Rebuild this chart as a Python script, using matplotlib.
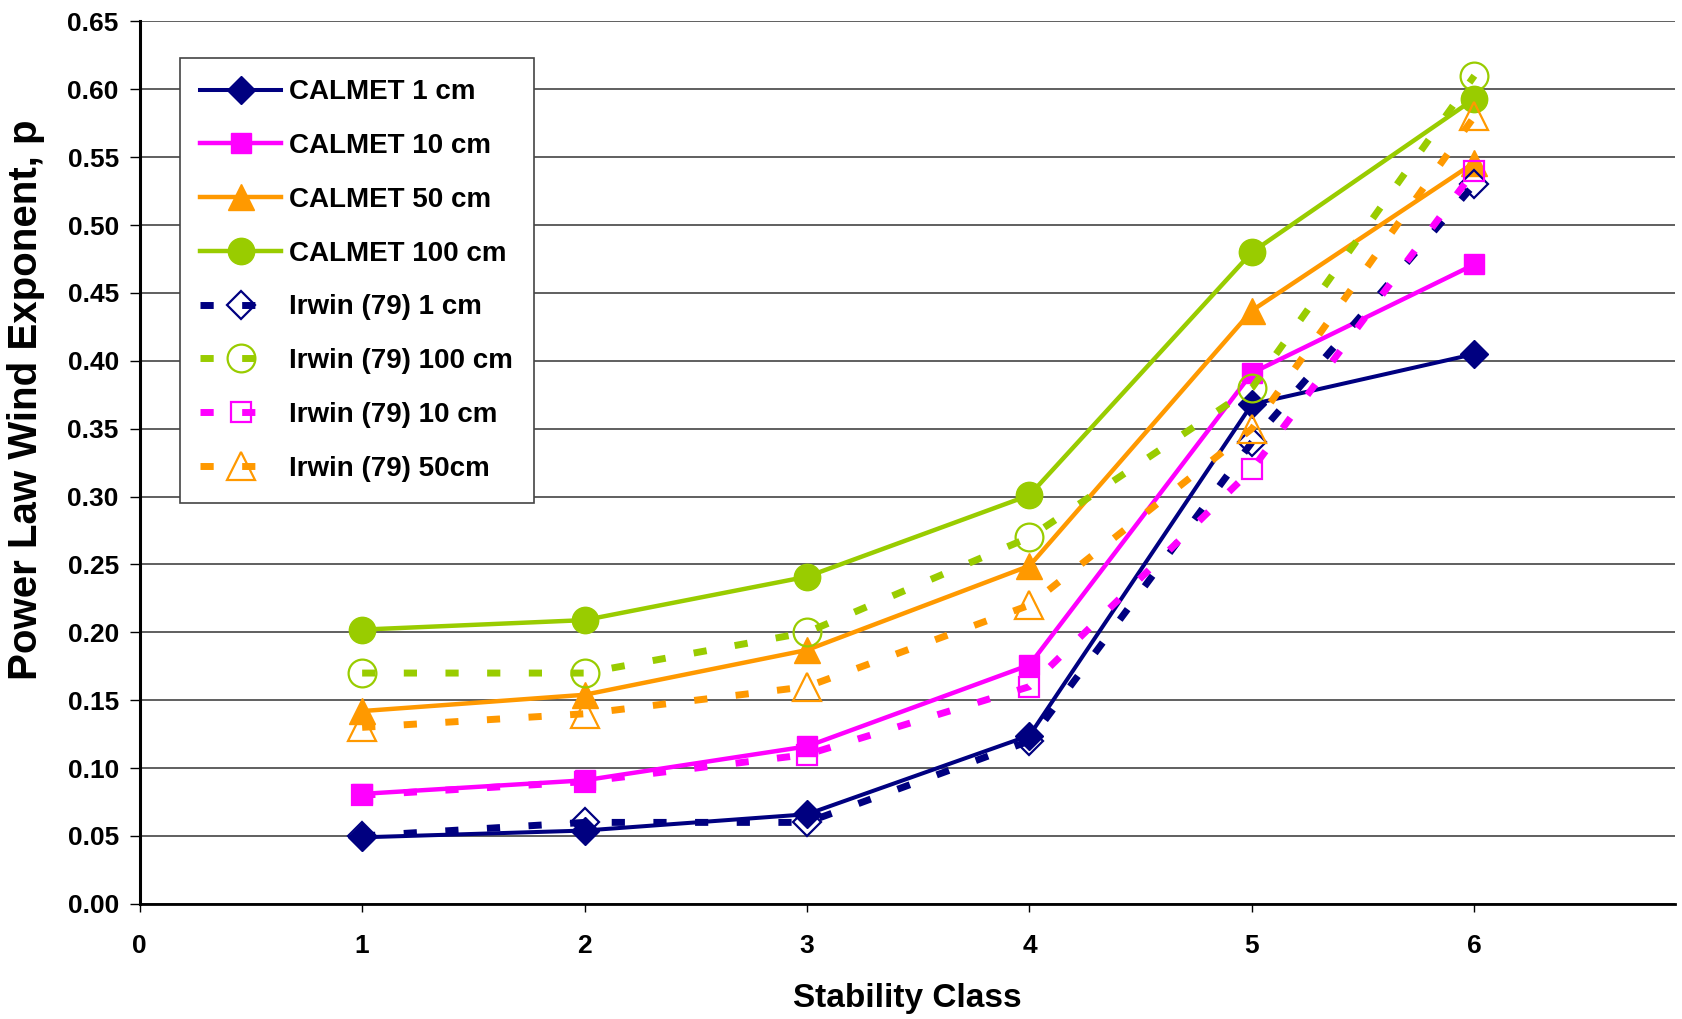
import matplotlib
matplotlib.use('Agg')
import matplotlib.pyplot as plt

stability = [1, 2, 3, 4, 5, 6]

calmet_1 = [0.049, 0.054, 0.066, 0.124, 0.368, 0.405]
calmet_10 = [0.081, 0.091, 0.116, 0.176, 0.391, 0.471]
calmet_50 = [0.142, 0.154, 0.187, 0.249, 0.437, 0.546]
calmet_100 = [0.202, 0.209, 0.241, 0.301, 0.480, 0.593]

irwin_1 = [0.05, 0.06, 0.06, 0.12, 0.34, 0.53]
irwin_100 = [0.17, 0.17, 0.20, 0.27, 0.38, 0.61]
irwin_10 = [0.08, 0.09, 0.11, 0.16, 0.32, 0.54]
irwin_50 = [0.13, 0.14, 0.16, 0.22, 0.35, 0.58]

y_ticks = [0.00, 0.05, 0.10, 0.15, 0.20, 0.25, 0.30, 0.35, 0.40, 0.45, 0.50, 0.55, 0.60, 0.65]
x_ticks = [0, 1, 2, 3, 4, 5, 6]

navy = '#000080'
magenta = '#FF00FF'
orange = '#FF9900'
green = '#99CC00'

plt.rcParams['font.family'] = ['Liberation Sans', 'DejaVu Sans']
plt.rcParams['font.weight'] = 'bold'

fig = plt.figure(figsize=(16.83, 10.19), dpi=100)
ax = fig.add_axes([0.083, 0.113, 0.912, 0.866])

solid_lw = 3.2
dash_lw = 5.0
dash = (0, (1.9, 4.1))

# solid CALMET series
ax.plot(stability, calmet_1, '-', color=navy, lw=solid_lw - 0.3, marker='D', markersize=14,
        label='CALMET 1 cm', zorder=3)
ax.plot(stability, calmet_10, '-', color=magenta, lw=solid_lw, marker='s', markersize=15,
        label='CALMET 10 cm', zorder=3)
ax.plot(stability, calmet_50, '-', color=orange, lw=solid_lw, marker='^', markersize=19,
        label='CALMET 50 cm', zorder=3)
ax.plot(stability, calmet_100, '-', color=green, lw=solid_lw, marker='o', markersize=19,
        label='CALMET 100 cm', zorder=3)

# dashed Irwin series, hollow markers
ax.plot(stability, irwin_1, linestyle=dash, dash_capstyle='butt', color=navy, lw=dash_lw,
        marker='D', markersize=14, markerfacecolor='none', markeredgewidth=1.6,
        label='Irwin (79) 1 cm', zorder=4)
ax.plot(stability, irwin_100, linestyle=dash, dash_capstyle='butt', color=green, lw=dash_lw,
        marker='o', markersize=20, markerfacecolor='none', markeredgewidth=1.6,
        label='Irwin (79) 100 cm', zorder=4)
ax.plot(stability, irwin_10, linestyle=dash, dash_capstyle='butt', color=magenta, lw=dash_lw,
        marker='s', markersize=15, markerfacecolor='none', markeredgewidth=1.6,
        label='Irwin (79) 10 cm', zorder=4)
ax.plot(stability, irwin_50, linestyle=dash, dash_capstyle='butt', color=orange, lw=dash_lw,
        marker='^', markersize=20, markerfacecolor='none', markeredgewidth=1.6,
        label='Irwin (79) 50cm', zorder=4)

ax.set_xlim(0, 6.9)
ax.set_ylim(0, 0.65)
ax.set_xticks(x_ticks)
ax.set_xticklabels([str(v) for v in x_ticks], fontsize=19, fontweight='bold')
ax.set_yticks(y_ticks)
ax.set_yticklabels(['%.2f' % v for v in y_ticks], fontsize=19, fontweight='bold')

ax.set_xlabel('Stability Class', fontsize=24, fontweight='bold')
ax.xaxis.set_label_coords(0.5, -0.09)
ax.set_ylabel('Power Law Wind Exponent, p', fontsize=29, fontweight='bold')
ax.yaxis.set_label_coords(-0.074, 0.571)
ax.yaxis.label.set_va('center')

ax.yaxis.grid(True, color='#444444', lw=1.2)
ax.set_axisbelow(True)

ax.spines['top'].set_visible(False)
ax.spines['right'].set_visible(False)
ax.spines['left'].set_linewidth(2.2)
ax.spines['bottom'].set_linewidth(2)
ax.tick_params(axis='y', direction='out', length=7, width=1, pad=8)
ax.tick_params(axis='x', direction='out', length=6, width=1, pad=16)

leg = ax.legend(loc='upper left', bbox_to_anchor=(0.026, 0.958), fontsize=20,
                frameon=True, fancybox=False, edgecolor='#444444', framealpha=1,
                handlelength=2.9, handletextpad=0.3, labelspacing=1.0,
                borderpad=0.75, borderaxespad=0)
leg.get_frame().set_linewidth(1.2)
for t in leg.get_texts():
    t.set_fontweight('bold')

fig.savefig('out.png', dpi=100)
